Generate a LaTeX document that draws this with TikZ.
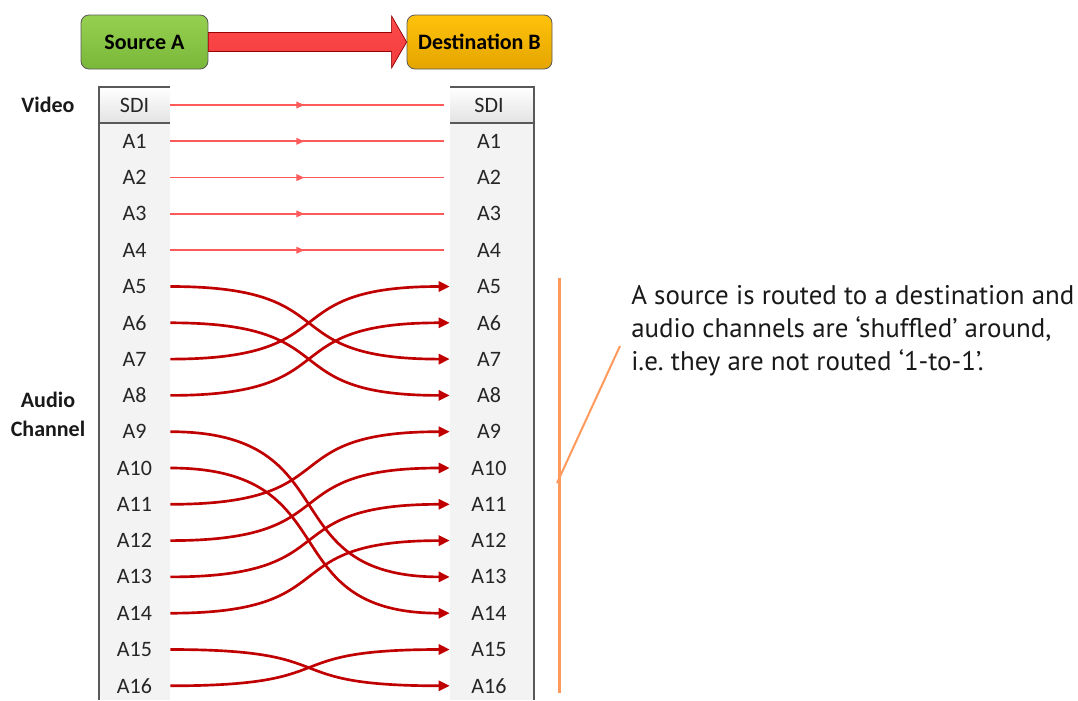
\documentclass[tikz,border=0pt]{standalone}
\usepackage{fontspec}
\setmainfont{Carlito}
\newfontfamily\annfont{PT Sans}
\usetikzlibrary{arrows.meta,decorations.markings,calc}
\definecolor{srcTop}{HTML}{96D050}
\definecolor{srcBot}{HTML}{7AB83A}
\definecolor{dstTop}{HTML}{FFC20A}
\definecolor{dstBot}{HTML}{E5A500}
\definecolor{bigRed}{HTML}{FF4B4B}
\definecolor{bigRedB}{HTML}{F03C3C}
\definecolor{lightRed}{HTML}{FF5A5A}
\definecolor{darkRed}{HTML}{C00000}
\definecolor{colLine}{HTML}{595959}
\definecolor{colBg}{HTML}{F3F3F3}
\definecolor{noteOrange}{HTML}{FF9A5C}
\frenchspacing
\begin{document}
\begin{tikzpicture}[x=0.75pt,y=-0.75pt,
  topbox/.style={draw=gray!70!black, line width=0.6pt, rounded corners=6pt,
    minimum height=40.5pt, inner sep=0pt, font=\bfseries\fontsize{16.5}{18}\selectfont},
  lblL/.style={minimum width=53.25pt, inner sep=0pt, text=black!85,
    font=\fontsize{16.5}{18}\selectfont},
  lblR/.style={minimum width=58.5pt, inner sep=0pt, text=black!85,
    font=\fontsize{16.5}{18}\selectfont},
  sidelbl/.style={align=center, inner sep=0pt, text=black!90,
    font=\bfseries\fontsize{16.5}{21.75}\selectfont},
  colline/.style={draw=colLine, line width=1.5pt},
  straight/.style={draw=lightRed, line width=1.25pt, postaction={decorate},
    decoration={markings, mark=at position 0.49 with {\arrow{Triangle[length=6pt,width=5pt]}}}},
  shuf/.style={draw=darkRed, line width=2pt, -{Triangle[length=8.25pt,width=7.5pt]}},
  orangeline/.style={draw=noteOrange, line width=2.25pt},
  leader/.style={draw=noteOrange, line width=1.5pt},
]
\useasboundingbox (0,0) rectangle (1078,700);

% column backgrounds
\fill[colBg] (99,123) rectangle (170,700);
\fill[colBg] (450,123) rectangle (534,700);
\shade[top color=white, bottom color=gray!22] (99,87) rectangle (170,123);
\shade[top color=white, bottom color=gray!22] (450,87) rectangle (534,123);
\draw[colline] (170,87) -- (99,87) -- (99,700);
\draw[colline] (99,123) -- (170,123);
\draw[colline] (450,87) -- (534,87) -- (534,700);
\draw[colline] (450,123) -- (534,123);

% top boxes
\node[topbox, minimum width=95.25pt, top color=srcTop, bottom color=srcBot] (src) at (144.5,42) {Source A};
\node[topbox, minimum width=108.75pt, top color=dstTop, bottom color=dstBot] (dst) at (479.5,42) {Destination B};
\filldraw[draw=red!60!black, line width=0.5pt, top color=bigRed, bottom color=bigRedB]
  ($(src.east)+(0,-9.5)$) -- ($(dst.west)+(-15,-9.5)$) -- ($(dst.west)+(-15,-26)$)
  -- (dst.west) -- ($(dst.west)+(-15,26)$) -- ($(dst.west)+(-15,9.5)$)
  -- ($(src.east)+(0,9.5)$) -- cycle;

% side labels
\node[sidelbl] (video) at (48,105) {Video};
\node[sidelbl] (audio) at (48,414.5) {Audio\\Channel};

% rows
\foreach \t [count=\i from 0] in {SDI,A1,A2,A3,A4,A5,A6,A7,A8,A9,A10,A11,A12,A13,A14,A15,A16} {
  \node[lblL] (L\i) at (134.5,{105+36.3*\i}) {\t};
  \node[lblR] (R\i) at (489,{105+36.3*\i}) {\t};
}

% straight 1-to-1 routes
\foreach \i in {0,...,4}
  \draw[straight] (L\i.east) -- ($(R\i.west)+(-6,0)$);

% shuffled routes
\foreach \a/\b in {5/7,6/8,7/5,8/6,9/13,10/14,11/9,12/10,13/11,14/12,15/16,16/15}
  \draw[shuf] (L\a.east) .. controls +(180,0) and +(-180,0) .. (R\b.west);

% annotation
\coordinate (brTop) at (559,278);
\coordinate (brBot) at (559,693);
\coordinate (ldFoot) at (557,483);
\coordinate (ldTip) at (620,346);
\draw[orangeline] (brTop) -- (brBot);
\draw[leader] (ldFoot) -- (ldTip);
\node[anchor=base west, align=left, inner sep=0pt, text=black!90,
  font=\annfont\fontsize{20.2}{24.4}\selectfont] (note) at (631,370)
  {A source is routed to a destination and\\audio channels are ‘shuffled’ around,\\i.e. they are not routed ‘1-to-1’.};
\end{tikzpicture}
\end{document}
